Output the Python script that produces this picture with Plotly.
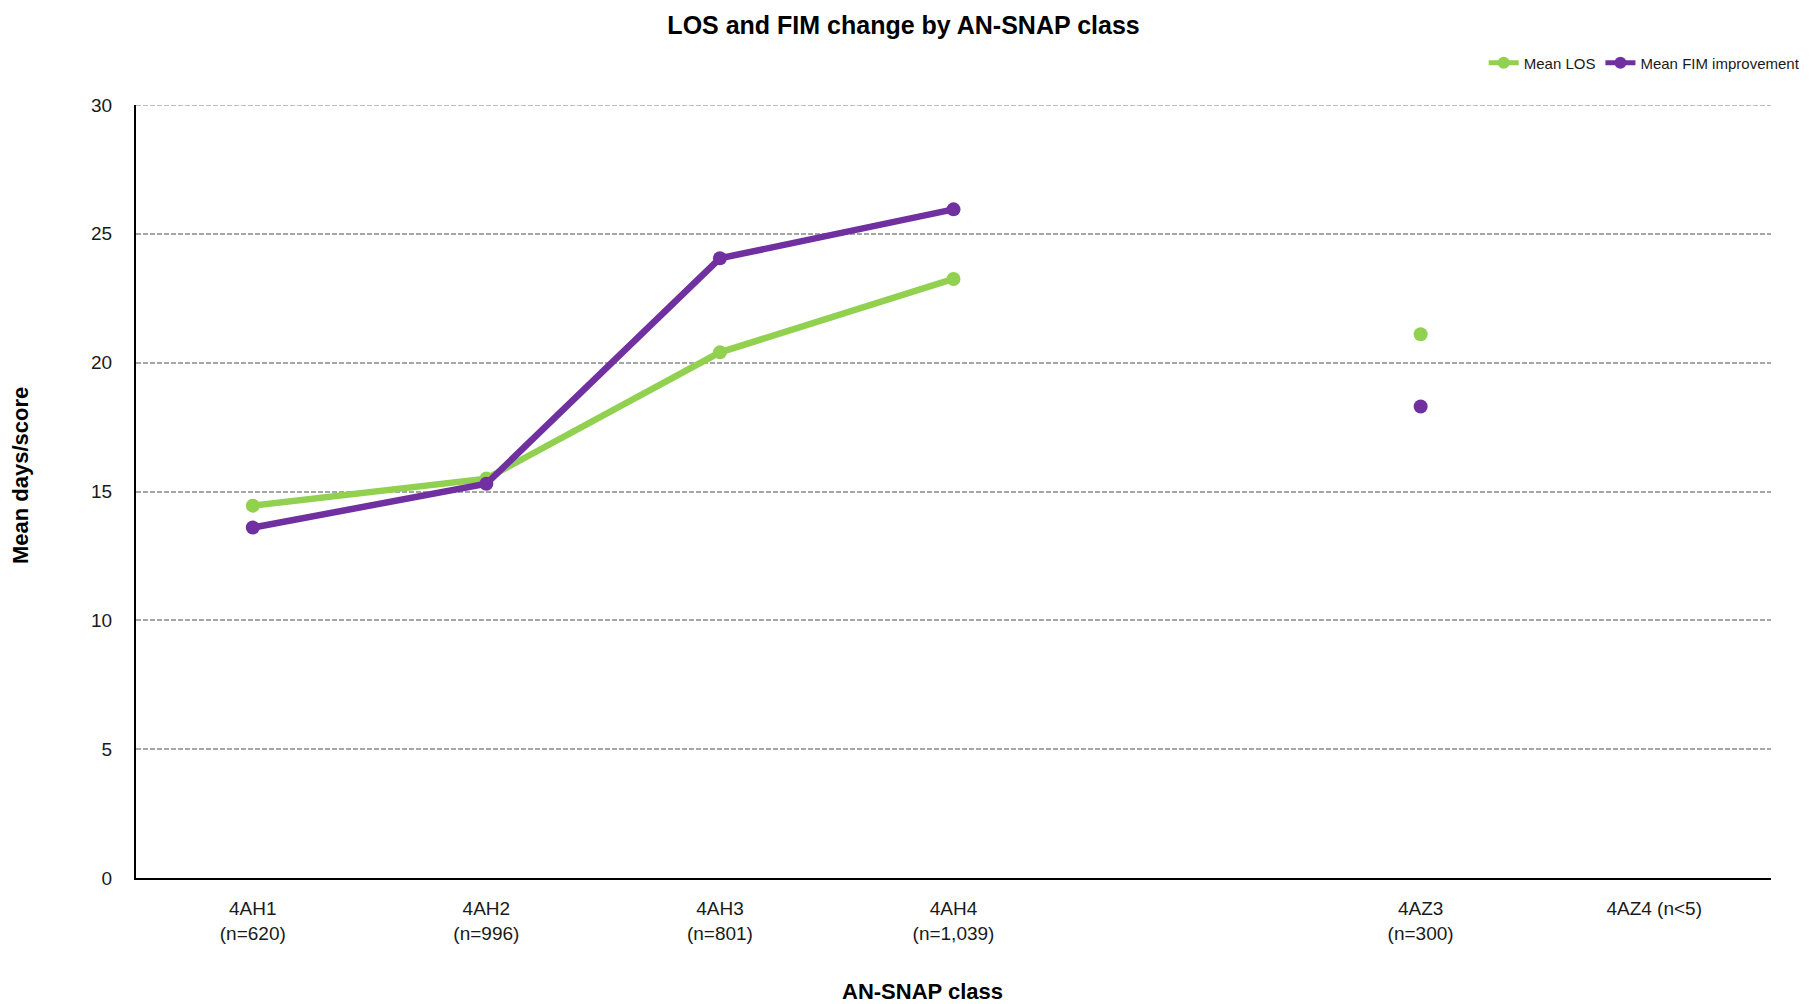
import plotly.graph_objects as go

# AN-SNAP classes (blank slot between 4AH4 and 4AZ3 like the original)
classes = ["4AH1<br>(n=620)", "4AH2<br>(n=996)", "4AH3<br>(n=801)", "4AH4<br>(n=1,039)",
           " ", "4AZ3<br>(n=300)", "4AZ4 (n<5)"]
mean_los = [14.45, 15.5, 20.4, 23.25, None, 21.1, None]
mean_fim = [13.6, 15.3, 24.05, 25.95, None, 18.3, None]

green = "#92D050"
purple = "#7030A0"
font = "Liberation Sans Narrow, Arial Narrow, Liberation Sans, Arial, sans-serif"

# page body has an 8px margin, so the figure is drawn 8px smaller and everything shifted
W, H = 1808, 996
L, R, T, B = 128, 44, 97, 126
plot_w = W - L - R
plot_h = H - T - B

fig = go.Figure()
fig.add_trace(go.Scatter(x=classes, y=mean_los, name="Mean LOS", mode="lines+markers",
                         line=dict(color=green, width=6.5), marker=dict(size=14, color=green),
                         connectgaps=False))
fig.add_trace(go.Scatter(x=classes, y=mean_fim, name="Mean FIM improvement", mode="lines+markers",
                         line=dict(color=purple, width=6.5), marker=dict(size=14, color=purple),
                         connectgaps=False))

grid_dash = "5px,2px"

fig.update_layout(
    width=W, height=H,
    paper_bgcolor="white", plot_bgcolor="white",
    margin=dict(l=L, r=R, t=T, b=B),
    font=dict(family=font, size=19, color="#1a1a1a"),
    title=dict(text="<b>LOS and FIM change by AN-SNAP class</b>", x=(896 - L) / plot_w, xref="paper",
               xanchor="center", y=1 - 17 / H, yanchor="middle", font=dict(size=25, color="black")),
    showlegend=True,
    legend=dict(orientation="h", x=1.02, xanchor="right", y=1 + (T - 55) / plot_h, yanchor="middle",
                font=dict(size=15), bgcolor="rgba(0,0,0,0)", itemsizing="constant"),
    xaxis=dict(type="category", categoryorder="array", categoryarray=classes,
               range=[-0.5, 6.5], showgrid=False, showline=True, linecolor="black", linewidth=2,
               ticks="", tickfont=dict(size=19), ticklabelstandoff=12, fixedrange=True),
    yaxis=dict(range=[0, 30], dtick=5, showgrid=True, gridcolor="#a6a6a6", griddash=grid_dash,
               gridwidth=1.5, showline=True, linecolor="black", linewidth=2, zeroline=False,
               ticks="", tickfont=dict(size=19), ticklabelstandoff=18, fixedrange=True),
    shapes=[dict(type="line", xref="paper", x0=0, x1=1, yref="y", y0=30, y1=30,
                 line=dict(color="#a6a6a6", width=1.5, dash=grid_dash), layer="below")],
    annotations=[
        dict(text="<b>Mean days/score</b>", textangle=-90, xref="paper", x=(13 - L) / plot_w,
             xanchor="center", yref="paper", y=1 - (468 - T) / plot_h, yanchor="middle",
             showarrow=False, font=dict(size=22, color="black")),
        dict(text="<b>AN-SNAP class</b>", xref="paper", x=(915 - L) / plot_w, xanchor="center",
             yref="paper", y=-(983 - (H - B)) / plot_h, yanchor="middle",
             showarrow=False, font=dict(size=22, color="black")),
    ],
)

fig.write_html("out.html")
